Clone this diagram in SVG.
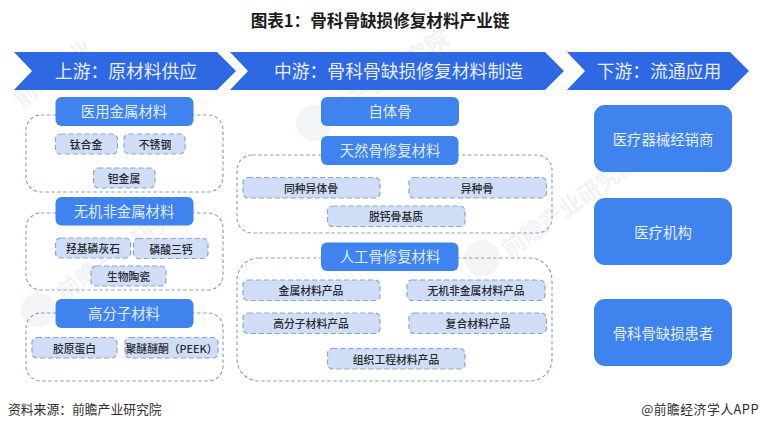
<svg xmlns="http://www.w3.org/2000/svg" width="760" height="430" viewBox="0 0 760 430">
<style>
text{font-family:"Noto Sans CJK SC","Liberation Sans",sans-serif;text-anchor:middle}
.arrow{fill:#2f68e3}
.arrow-t{fill:#e6eefc;font-size:17.8px}
.head rect{fill:#3f83ef;rx:6px}
.head text{fill:#dfeafc;font-size:14.4px}
.big rect{fill:#3f83ef;rx:11px}
.big text{fill:#e6eefc;font-size:14.4px}
.chip rect{fill:#cfdef6;stroke:#8ba5ce;stroke-width:1.2;stroke-dasharray:5 3;rx:5px}
.chip text{fill:#26282c;font-size:10.8px;font-weight:500}
.grp{fill:none;stroke:#8b9db3;stroke-width:1.1;stroke-dasharray:3.5 2.5}
.wm{fill:#f1f3f6;font-size:23px;font-weight:700}
.foot{fill:#2e2e2e;font-size:12.8px}
</style>
<rect width="760" height="430" fill="#fff"/>
<g id="watermark">
<text class="wm" transform="translate(58 80) rotate(-38)">前瞻产业</text>
<text class="wm" transform="translate(385 88) rotate(-35)">前瞻产业研究院</text>
<text class="wm" transform="translate(130 255) rotate(-35)">前瞻产业研究院</text>
<text class="wm" transform="translate(575 212) rotate(-35)">前瞻产业研究院</text>
<circle cx="314" cy="123" r="18" fill="#f2f4f6"/>
<circle cx="38" cy="310" r="17" fill="#f2f4f6"/>
<circle cx="482" cy="258" r="18" fill="#f2f4f6"/>
</g>
<text id="title" x="380" y="26.500" font-size="16.600" font-weight="700" fill="#1c1c1c" style="font-family:'Noto Sans CJK SC',serif">图表1：骨科骨缺损修复材料产业链</text>
<g id="connectors">
<rect class="grp" x="26" y="115" width="197" height="77" rx="15"/>
<rect class="grp" x="26" y="213" width="197" height="77" rx="15"/>
<rect class="grp" x="26" y="313" width="197" height="68" rx="15"/>
<rect class="grp" x="237" y="155" width="315" height="78" rx="15"/>
<rect class="grp" x="237" y="258" width="315" height="123" rx="22"/>
</g>
<g id="stage-up"><polygon class="arrow" points="14,52 217,52 236,71 217,90 14,90 32,71"/><text class="arrow-t" x="126" y="77.500">上游：原材料供应</text></g>
<g id="stage-mid"><polygon class="arrow" points="230,52 545,52 564,71 545,90 230,90 248,71"/><text class="arrow-t" x="398.500" y="77.500">中游：骨科骨缺损修复材料制造</text></g>
<g id="stage-down"><polygon class="arrow" points="567,52 730,52 749,71 730,90 567,90 585,71"/><text class="arrow-t" x="659" y="77.500">下游：流通应用</text></g>
<g id="n1" class="head"><rect x="55.500" y="97" width="138" height="29"/><text x="124" y="117">医用金属材料</text></g>
<g id="n2" class="chip"><rect x="55.500" y="134" width="62" height="20"/><text x="86" y="149">钛合金</text></g>
<g id="n3" class="chip"><rect x="124" y="134" width="61" height="20"/><text x="155" y="149">不锈钢</text></g>
<g id="n4" class="chip"><rect x="93.500" y="168" width="61.500" height="20"/><text x="124" y="183">钽金属</text></g>
<g id="n5" class="head"><rect x="55.500" y="197" width="138" height="28.500"/><text x="124" y="217">无机非金属材料</text></g>
<g id="n6" class="chip"><rect x="55.500" y="238" width="75" height="20"/><text x="93" y="253">羟基磷灰石</text></g>
<g id="n7" class="chip"><rect x="133.500" y="238.500" width="74.500" height="20"/><text x="171" y="254">磷酸三钙</text></g>
<g id="n8" class="chip"><rect x="91" y="266" width="75" height="20"/><text x="128.500" y="281">生物陶瓷</text></g>
<g id="n9" class="head"><rect x="55.500" y="299" width="138" height="29"/><text x="124" y="319">高分子材料</text></g>
<g id="n10" class="chip"><rect x="32" y="337.500" width="85" height="20.500"/><text x="74.500" y="353">胶原蛋白</text></g>
<g id="n11" class="chip"><rect x="125" y="337.500" width="93" height="20.500"/><text x="171.500" y="353">聚醚醚酮（PEEK）</text></g>
<g id="n12" class="head"><rect x="321" y="97" width="138" height="29"/><text x="390" y="117">自体骨</text></g>
<g id="n13" class="head"><rect x="321" y="136" width="137.500" height="29"/><text x="390" y="156">天然骨修复材料</text></g>
<g id="n14" class="chip"><rect x="243" y="177.500" width="137" height="20.500"/><text x="311" y="193">同种异体骨</text></g>
<g id="n15" class="chip"><rect x="409" y="177.500" width="137.500" height="20.500"/><text x="477" y="193">异种骨</text></g>
<g id="n16" class="chip"><rect x="327.500" y="206" width="137.500" height="20.500"/><text x="396" y="221">脱钙骨基质</text></g>
<g id="n17" class="head"><rect x="321" y="242.500" width="137.500" height="28.500"/><text x="390" y="262">人工骨修复材料</text></g>
<g id="n18" class="chip"><rect x="243" y="280" width="137" height="20.500"/><text x="311" y="295">金属材料产品</text></g>
<g id="n19" class="chip"><rect x="407" y="280" width="138" height="20.500"/><text x="476" y="295">无机非金属材料产品</text></g>
<g id="n20" class="chip"><rect x="243" y="313" width="137" height="20.500"/><text x="311" y="328">高分子材料产品</text></g>
<g id="n21" class="chip"><rect x="409" y="313" width="137.500" height="20.500"/><text x="478" y="328">复合材料产品</text></g>
<g id="n22" class="chip"><rect x="327.500" y="348.500" width="137.500" height="20.500"/><text x="396" y="364">组织工程材料产品</text></g>
<g id="n23" class="big"><rect x="594" y="105" width="138" height="67"/><text x="663" y="145">医疗器械经销商</text></g>
<g id="n24" class="big"><rect x="594" y="198" width="138" height="67"/><text x="663" y="238">医疗机构</text></g>
<g id="n25" class="big"><rect x="594" y="299" width="138" height="67"/><text x="663" y="339">骨科骨缺损患者</text></g>
<text class="foot" x="8" y="414" style="text-anchor:start">资料来源：前瞻产业研究院</text>
<text class="foot" x="759" y="414" style="text-anchor:end;letter-spacing:.5px">@前瞻经济学人APP</text>
</svg>
